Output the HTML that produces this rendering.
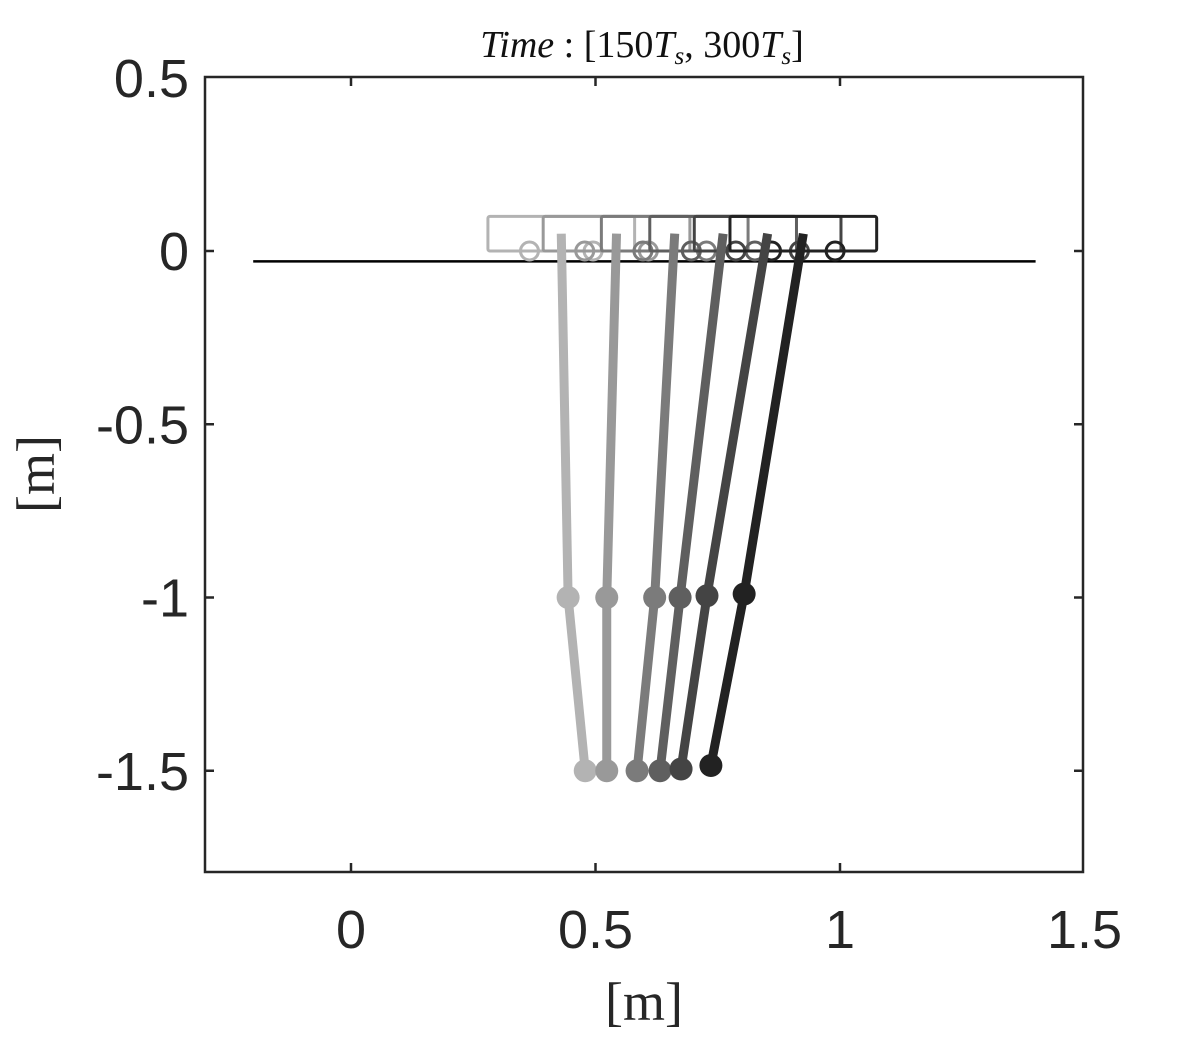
<!DOCTYPE html>
<html><head><meta charset="utf-8"><style>
body{margin:0;background:#fff}
svg{display:block}
.tick{font-family:"Liberation Sans",sans-serif;font-size:54px;fill:#262626}
.lab{font-family:"Liberation Serif",serif;font-size:54px;fill:#262626}
</style></head><body>
<svg id="chart" width="1198" height="1042" viewBox="0 0 1198 1042" xmlns="http://www.w3.org/2000/svg">
<rect x="205" y="77" width="878" height="795" fill="#fff" stroke="none"/>
<g id="marks"></g>
<rect x="205" y="77" width="878" height="795" fill="none" stroke="#262626" stroke-width="2.5"/>
<g id="ticks"></g>
<text x="642" y="57" text-anchor="middle" font-family="Liberation Serif, serif" font-size="38" fill="#111"><tspan font-style="italic">Time</tspan> : [150<tspan font-style="italic">T</tspan><tspan font-style="italic" font-size="25" dy="7">s</tspan><tspan dy="-7">, 300</tspan><tspan font-style="italic">T</tspan><tspan font-style="italic" font-size="25" dy="7">s</tspan><tspan dy="-7">]</tspan></text>
<text class="lab" x="644" y="1020" text-anchor="middle">[m]</text>
<text class="lab" transform="translate(54,474) rotate(-90)" text-anchor="middle">[m]</text>
</svg>
<script>
const xTicks=[0,0.5,1,1.5];
const xTickLabels=["0","0.5","1","1.5"];
const yTicks=[0.5,0,-0.5,-1,-1.5];
const yTickLabels=["0.5","0","-0.5","-1","-1.5"];
const cartX=[0.43,0.543,0.662,0.761,0.852,0.925];
const midX=[0.444,0.523,0.621,0.673,0.728,0.804];
const midY=[-1,-1,-1,-1,-0.995,-0.99];
const botX=[0.479,0.523,0.585,0.632,0.675,0.736];
const botY=[-1.5,-1.5,-1.5,-1.5,-1.495,-1.485];
const colors=["#b3b3b3","#999999","#7b7b7b","#5f5f5f","#444444","#222222"];
const X=v=>351+(v)*489;
const Y=v=>251-(v)*346.5;
const NS="http://www.w3.org/2000/svg";
const marks=document.getElementById('marks'),ticks=document.getElementById('ticks');
function mk(tag,attrs,parent){const e=document.createElementNS(NS,tag);for(const k in attrs)e.setAttribute(k,attrs[k]);parent.appendChild(e);return e;}
let g=mk('line',{x1:X(-0.2),y1:Y(-0.03),x2:X(1.4),y2:Y(-0.03),stroke:'#000','stroke-width':2.5},marks);


cartX.forEach((c,i)=>{
  const r=mk('rect',{x:X(c-0.15),y:Y(0.1),width:X(c+0.15)-X(c-0.15),height:Y(0)-Y(0.1),fill:'none',stroke:colors[i],'stroke-width':3,rx:2},marks);
  
  
  [-0.065,0.065].forEach(o=>{
    const w=mk('circle',{cx:X(c+o),cy:Y(0),r:9,fill:'none',stroke:colors[i],'stroke-width':3},marks);
    
    
  });
});
cartX.forEach((c,i)=>{
  const p=mk('polyline',{points:`${X(c)},${Y(0.05)} ${X(midX[i])},${Y(midY[i])} ${X(botX[i])},${Y(botY[i])}`,fill:'none',stroke:colors[i],'stroke-width':9},marks);
  
  
  [[midX[i],midY[i]],[botX[i],botY[i]]].forEach(([a,b])=>{
    const m=mk('circle',{cx:X(a),cy:Y(b),r:11.5,fill:colors[i]},marks);
    
    
  });
});
xTicks.forEach((v,i)=>{
  const x=X(v);
  if(x<1080){mk('line',{x1:x,y1:872,x2:x,y2:863,stroke:'#262626','stroke-width':2.5},ticks);
  mk('line',{x1:x,y1:77,x2:x,y2:86,stroke:'#262626','stroke-width':2.5},ticks);}
  const t=mk('text',{x:x,y:948,'text-anchor':'middle',class:'tick'},ticks);t.textContent=xTickLabels[i];
  
  
});
yTicks.forEach((v,i)=>{
  const y=Y(v);
  if(y>80){mk('line',{x1:205,y1:y,x2:214,y2:y,stroke:'#262626','stroke-width':2.5},ticks);
  mk('line',{x1:1083,y1:y,x2:1074,y2:y,stroke:'#262626','stroke-width':2.5},ticks);}
  const t=mk('text',{x:189,y:y+19,'text-anchor':'end',class:'tick'},ticks);t.textContent=yTickLabels[i];
  
  
});
</script>
</body></html>
